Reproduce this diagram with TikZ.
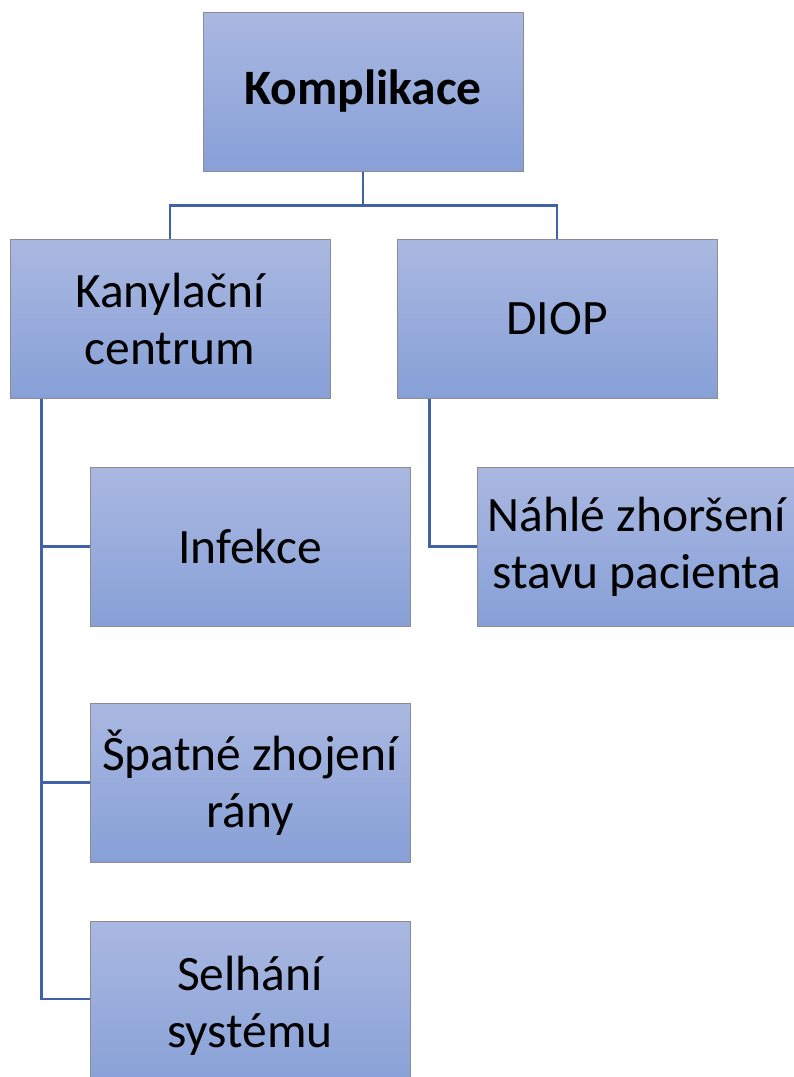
\documentclass[tikz,border=0pt]{standalone}
\usepackage{fontspec}
\setmainfont{Carlito}
\begin{document}
\begin{tikzpicture}[x=1pt,y=-1pt,
  box/.style={rectangle, draw=boxline, line width=1pt, top color=boxtop, bottom color=boxbot,
    minimum width=320pt, minimum height=159pt, inner sep=0pt, align=center,
    font=\fontsize{49.5}{57}\selectfont, text=black},
  link/.style={draw=linkcol, line width=2.4pt}]
  \definecolor{boxtop}{HTML}{AAB8E1}
  \definecolor{boxbot}{HTML}{87A0D7}
  \definecolor{boxline}{HTML}{8C8C8C}
  \definecolor{linkcol}{HTML}{4262A8}
  \useasboundingbox (0,0) rectangle (794,1077);
  \clip (0,0) rectangle (794,1077);

  % hierarchy boxes
  \node[box, font=\fontsize{49.5}{57}\selectfont\bfseries] (komp) at (363,91.5) {Komplikace};
  \node[box] (kan) at (170,318.5) {Kanylační\\centrum};
  \node[box] (diop) at (557,318.5) {DIOP};
  \node[box] (inf) at (250,546.5) {Infekce};
  \node[box] (spat) at (250,782.5) {Špatné zhojení\\rány};
  \node[box, minimum height=170pt] (selh) at (250,1006) {Selhání\\systému};
  \node[box] (nahl) at (637,546.5) {Náhlé zhoršení\\stavu pacienta};

  % connectors
  \coordinate (fork) at ([yshift=-34pt]komp.south);
  \draw[link] (komp.south) -- (fork) -| (kan.north);
  \draw[link] (fork) -| (diop.north);
  \coordinate (kspine) at ([xshift=32pt]kan.south west);
  \draw[link] (kspine) |- ([yshift=7pt]selh.west);
  \draw[link] (kspine) |- (inf.west);
  \draw[link] (kspine) |- (spat.west);
  \coordinate (dspine) at ([xshift=33pt]diop.south west);
  \draw[link] (dspine) |- (nahl.west);
\end{tikzpicture}
\end{document}
